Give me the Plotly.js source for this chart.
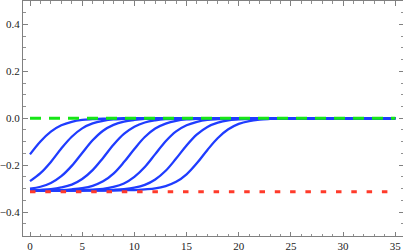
<!DOCTYPE html>
<html>
<head>
<meta charset="utf-8">
<script src="https://cdn.plot.ly/plotly-3.0.1.min.js"></script>
<style>html,body{margin:0;padding:0;background:#fff;}#chart{width:403px;height:251px;}</style>
</head>
<body>
<div id="chart"></div>
<script>
const xVals = [0,1,2,3,4,5,6,7,8,9,10,11,12,13,14,15,16,17,18,19,20,21,22,23,24,25,26,27,28,29,30,31,32,33,34,35];

const curve0 = [-0.154,-0.099,-0.057,-0.030,-0.015,-0.007,-0.004,-0.002,-0.001,0,0,0,0,0,0,0,0,0,0,0,0,0,0,0,0,0,0,0,0,0,0,0,0,0,0,0];
const curve1 = [-0.268,-0.234,-0.186,-0.129,-0.079,-0.043,-0.022,-0.011,-0.005,-0.003,-0.001,-0.001,0,0,0,0,0,0,0,0,0,0,0,0,0,0,0,0,0,0,0,0,0,0,0,0];
const curve2 = [-0.300,-0.292,-0.276,-0.247,-0.203,-0.148,-0.094,-0.053,-0.028,-0.014,-0.007,-0.003,-0.002,-0.001,0,0,0,0,0,0,0,0,0,0,0,0,0,0,0,0,0,0,0,0,0,0];
const curve3 = [-0.307,-0.305,-0.302,-0.295,-0.283,-0.259,-0.221,-0.169,-0.113,-0.067,-0.036,-0.018,-0.009,-0.004,-0.002,-0.001,0,0,0,0,0,0,0,0,0,0,0,0,0,0,0,0,0,0,0,0];
const curve4 = [-0.308,-0.307,-0.307,-0.306,-0.303,-0.298,-0.288,-0.269,-0.236,-0.187,-0.131,-0.080,-0.044,-0.023,-0.011,-0.005,-0.003,-0.001,-0.001,0,0,0,0,0,0,0,0,0,0,0,0,0,0,0,0,0];
const curve5 = [-0.308,-0.308,-0.308,-0.308,-0.307,-0.306,-0.304,-0.301,-0.293,-0.278,-0.250,-0.208,-0.153,-0.098,-0.056,-0.030,-0.015,-0.007,-0.004,-0.002,-0.001,0,0,0,0,0,0,0,0,0,0,0,0,0,0,0];
const curve6 = [-0.308,-0.308,-0.308,-0.308,-0.308,-0.308,-0.307,-0.307,-0.305,-0.302,-0.296,-0.284,-0.261,-0.224,-0.172,-0.116,-0.069,-0.037,-0.019,-0.009,-0.005,-0.002,-0.001,0,0,0,0,0,0,0,0,0,0,0,0,0];
const curve7 = [-0.308,-0.308,-0.308,-0.308,-0.308,-0.308,-0.308,-0.308,-0.308,-0.307,-0.306,-0.303,-0.299,-0.289,-0.271,-0.239,-0.191,-0.135,-0.084,-0.047,-0.024,-0.012,-0.006,-0.003,-0.001,-0.001,0,0,0,0,0,0,0,0,0,0];
const blueCurves = [curve0, curve1, curve2, curve3, curve4, curve5, curve6, curve7];

const greenX = [0, 35];
const greenY = [0, 0];
const redX = [0, 35];
const redY = [-0.313, -0.313];

const xTickVals = [0,5,10,15,20,25,30,35];
const yTickVals = [-0.4,-0.2,0,0.2,0.4];

const traces = blueCurves.map(y => ({
  x: xVals, y: y, type: 'scatter', mode: 'lines',
  line: {color: '#1f3cff', width: 2.3, shape: 'spline', smoothing: 1},
  hoverinfo: 'skip', showlegend: false
}));
traces.push({x: greenX, y: greenY, type: 'scatter', mode: 'lines',
  line: {color: '#16e616', width: 3, dash: '11px,8px'}, showlegend: false});
traces.push({x: redX, y: redY, type: 'scatter', mode: 'lines',
  line: {color: '#ff3a2a', width: 3, dash: '5.5px,9.8px'}, showlegend: false});

const serifFont = '"Liberation Serif", "DejaVu Serif", serif';

const axisCommon = {
  showgrid: false, zeroline: false, showline: true, mirror: 'ticks',
  linecolor: '#808080', linewidth: 1,
  ticks: 'inside', ticklen: 4.5, tickwidth: 1, tickcolor: '#808080',
  tickfont: {family: serifFont, size: 11, color: '#222'}
};

const layout = {
  width: 403, height: 251,
  margin: {l: 23, r: 0, t: 1, b: 15, pad: 0},
  paper_bgcolor: '#fff', plot_bgcolor: '#fff',
  showlegend: false,
  font: {family: serifFont, size: 11},
  xaxis: Object.assign({}, axisCommon, {
    range: [-0.671, 35.74], tickvals: xTickVals, ticktext: xTickVals.map(String),
    minor: {dtick: 1, tick0: 0, ticks: 'inside', ticklen: 2.5, tickcolor: '#909090', tickwidth: 1}
  }),
  yaxis: Object.assign({}, axisCommon, {
    range: [-0.502, 0.5], tickvals: yTickVals, tickformat: '.1f',
    minor: {dtick: 0.05, tick0: 0, ticks: 'inside', ticklen: 2.5, tickcolor: '#909090', tickwidth: 1}
  })
};

Plotly.newPlot('chart', traces, layout, {staticPlot: true, displayModeBar: false});
</script>
</body>
</html>
